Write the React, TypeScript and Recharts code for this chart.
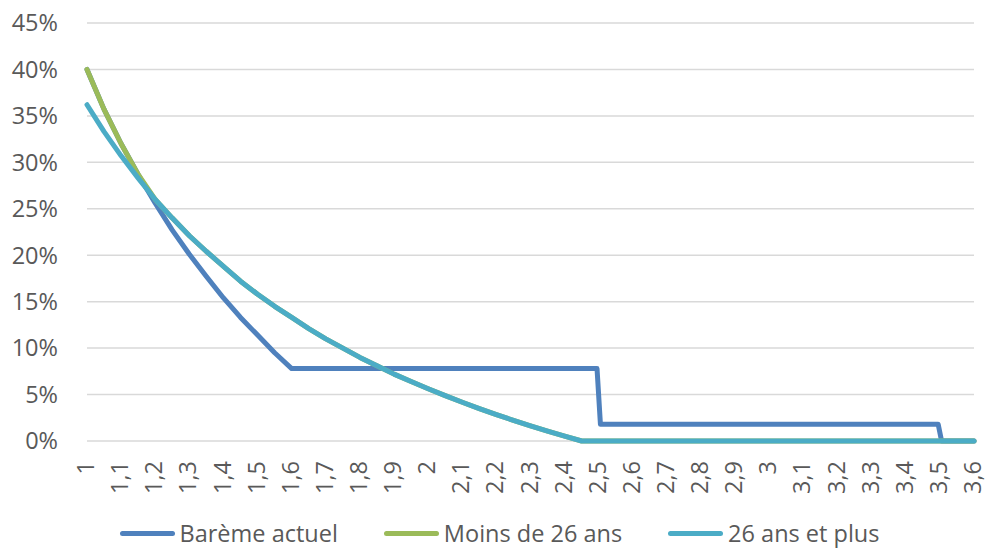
import { LineChart, Line, XAxis, YAxis, CartesianGrid } from 'recharts';

// salaire en multiples du SMIC
const xValues = [
  1, 1.05, 1.1, 1.15, 1.2, 1.25, 1.3, 1.35, 1.4, 1.45, 1.5, 1.55, 1.6, 1.65, 1.7,
  1.75, 1.8, 1.85, 1.9, 1.95, 2, 2.05, 2.1, 2.15, 2.2, 2.25, 2.3, 2.35, 2.4, 2.45,
  2.495, 2.505, 3.495, 3.505, 3.6,
];

// taux d'exonération en %
const baremeActuel = [
  40.0, 35.7, 32.0, 28.7, 25.6, 22.7, 20.1, 17.7, 15.4, 13.3, 11.4, 9.5, 7.8, 7.8, 7.8,
  7.8, 7.8, 7.8, 7.8, 7.8, 7.8, 7.8, 7.8, 7.8, 7.8, 7.8, 7.8, 7.8, 7.8, 7.8,
  7.8, 1.8, 1.8, 0, 0,
];

const moins26 = [
  40.0, 35.7, 32.0, 28.7, 26.0, 24.0, 22.1, 20.4, 18.8, 17.2, 15.8, 14.5, 13.3, 12.1, 11.0,
  10.0, 9.0, 8.1, 7.2, 6.4, 5.62, 4.88, 4.17, 3.49, 2.84, 2.22, 1.63, 1.06, 0.52, 0,
  0, 0, 0, 0, 0,
];

const plus26 = [
  36.2, 33.3, 30.7, 28.3, 26.0, 24.0, 22.1, 20.4, 18.8, 17.2, 15.8, 14.5, 13.3, 12.1, 11.0,
  10.0, 9.0, 8.1, 7.2, 6.4, 5.62, 4.88, 4.17, 3.49, 2.84, 2.22, 1.63, 1.06, 0.52, 0,
  0, 0, 0, 0, 0,
];

const xTicks = [
  1, 1.1, 1.2, 1.3, 1.4, 1.5, 1.6, 1.7, 1.8, 1.9, 2, 2.1, 2.2, 2.3, 2.4, 2.5,
  2.6, 2.7, 2.8, 2.9, 3, 3.1, 3.2, 3.3, 3.4, 3.5, 3.6,
];
const yTicks = [0, 5, 10, 15, 20, 25, 30, 35, 40, 45];

const series = [
  { key: 'bareme', name: 'Barème actuel', color: '#4f81bd' },
  { key: 'moins26', name: 'Moins de 26 ans', color: '#9bbb59' },
  { key: 'plus26', name: '26 ans et plus', color: '#4bacc6' },
];

const data = xValues.map((x, i) => ({
  x,
  bareme: baremeActuel[i],
  moins26: moins26[i],
  plus26: plus26[i],
}));

const FONT = '"Open Sans", sans-serif';
const TEXT = '#595959';
const FS = 23.5;

const XTick = ({ x, y, payload }: any) => {
  const ty = y + 12;
  return (
    <text
      x={x}
      y={ty}
      dy="0.3em"
      textAnchor="end"
      transform={`rotate(-90 ${x} ${ty})`}
      fill={TEXT}
      fontSize={FS}
      fontFamily={FONT}
    >
      {String(payload.value).replace('.', ',')}
    </text>
  );
};

const App = () => {
  return (
    <div
      style={{
        position: 'relative',
        width: 989,
        height: 549,
        overflow: 'hidden',
        background: '#fff',
      }}
    >
      <style>{'html,body{margin:0;padding:0;overflow:hidden;}'}</style>
      <LineChart
        width={989}
        height={549}
        data={data}
        margin={{ top: 23, right: 15, bottom: 0, left: 0 }}
      >
        <CartesianGrid vertical={false} stroke="#d9d9d9" strokeWidth={1.5} />
        <XAxis
          dataKey="x"
          type="number"
          domain={[1, 3.6]}
          ticks={xTicks}
          interval={0}
          axisLine={false}
          tickLine={false}
          height={108}
          tick={<XTick />}
        />
        <YAxis
          type="number"
          domain={[0, 45]}
          ticks={yTicks}
          width={87}
          axisLine={false}
          tickLine={false}
          tickMargin={23}
          tickFormatter={(v: number) => `${v}%`}
          tick={{ fill: TEXT, fontSize: FS, fontFamily: FONT }}
        />
        {series.map((s) => (
          <Line
            key={s.key}
            type="linear"
            dataKey={s.key}
            name={s.name}
            stroke={s.color}
            strokeWidth={5}
            strokeLinejoin="round"
            strokeLinecap="round"
            dot={false}
            activeDot={false}
            isAnimationActive={false}
          />
        ))}
      </LineChart>
      <div
        style={{
          position: 'absolute',
          top: 520,
          left: 0,
          width: 989,
          height: 26,
          boxSizing: 'border-box',
          paddingLeft: 10,
          display: 'flex',
          justifyContent: 'center',
          alignItems: 'center',
          gap: 46,
          fontFamily: FONT,
          fontSize: FS,
          lineHeight: '26px',
          color: TEXT,
        }}
      >
        {series.map((s) => (
          <div key={s.key} style={{ display: 'flex', alignItems: 'center' }}>
            <span
              style={{
                display: 'inline-block',
                width: 55,
                height: 5,
                borderRadius: 3,
                background: s.color,
                marginRight: 5,
              }}
            />
            <span>{s.name}</span>
          </div>
        ))}
      </div>
    </div>
  );
};

export default App;
